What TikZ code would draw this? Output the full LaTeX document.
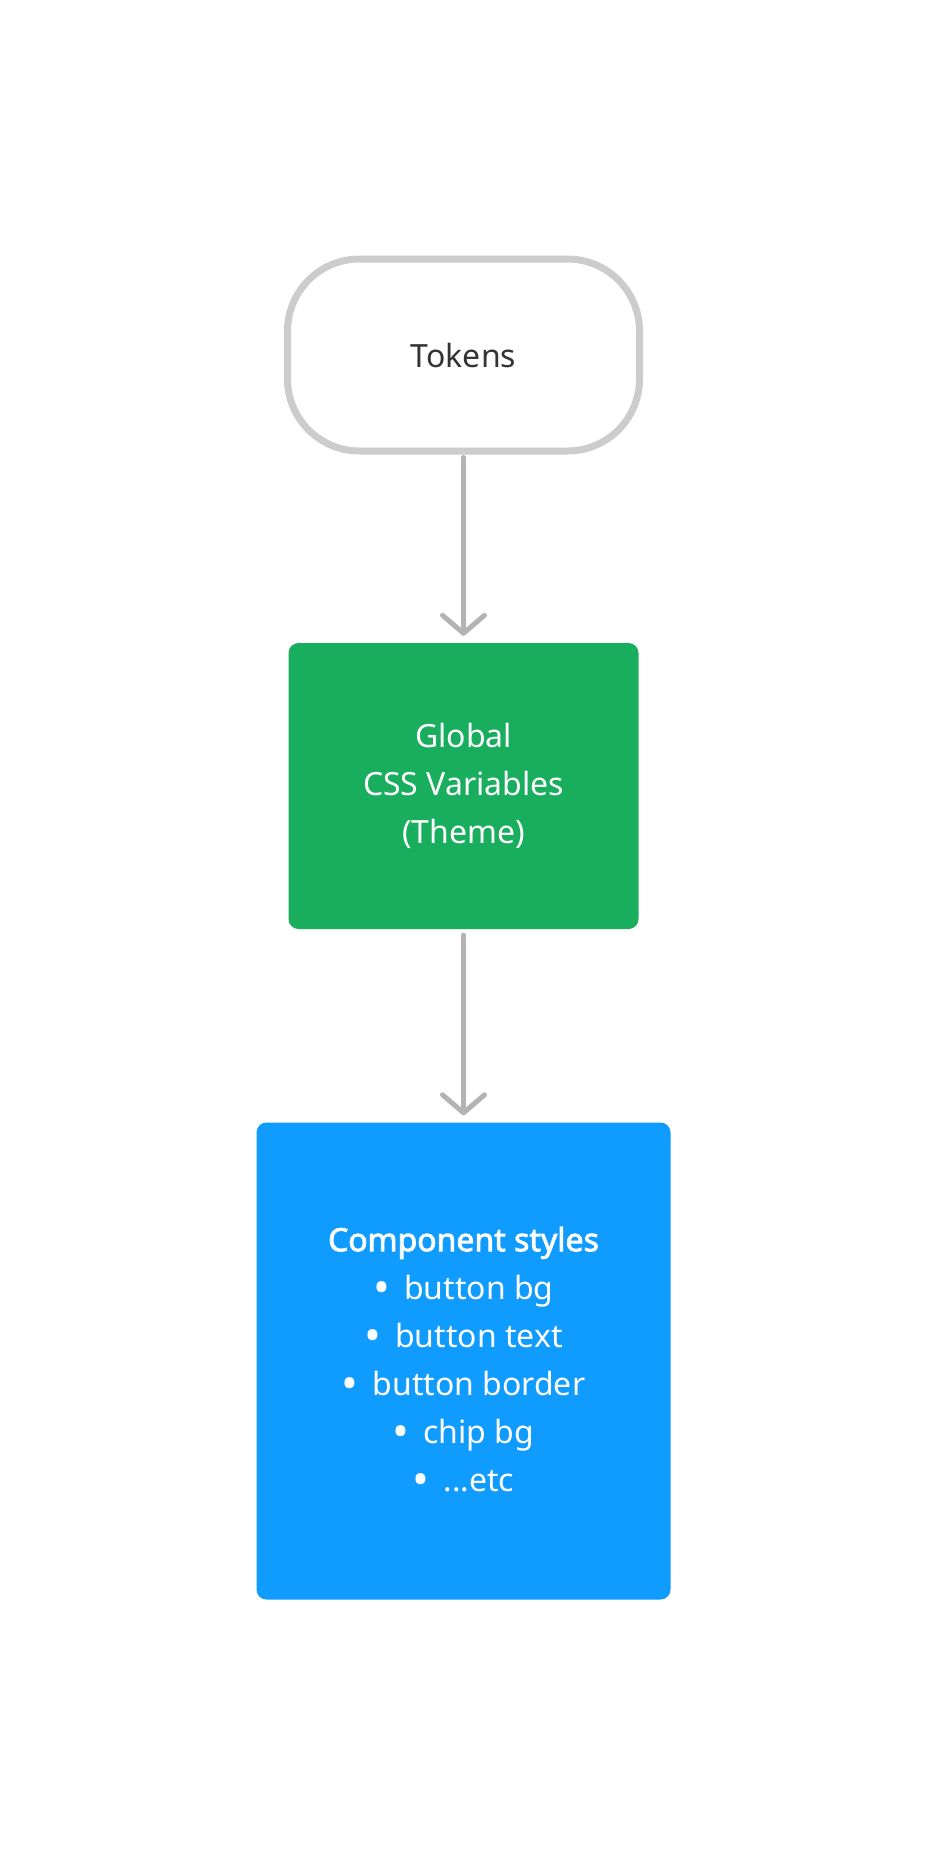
\documentclass[tikz,border=0pt]{standalone}
\usepackage{fontspec}
\usepackage{graphicx}
\setmainfont{Noto Sans}[BoldFont={Noto Sans}, BoldFeatures={FakeBold=2.5}]
\usetikzlibrary{arrows.meta}
\definecolor{tokgray}{HTML}{CCCCCC}
\definecolor{arrgray}{HTML}{B3B3B3}
\definecolor{txtdark}{HTML}{333333}
\definecolor{themegreen}{HTML}{18AE5E}
\definecolor{compblue}{HTML}{109BFF}
\tikzset{
  startbox/.style={draw=tokgray, line width=7pt, fill=white, rounded corners=72pt,
    minimum width=352pt, minimum height=192pt, text=txtdark, inner sep=0pt,
    font=\fontsize{32}{48}\selectfont},
  greenbox/.style={fill=themegreen, rounded corners=10pt, minimum width=350pt,
    minimum height=286pt, text=white, align=center, inner sep=0pt,
    font=\fontsize{32}{48}\selectfont},
  bluebox/.style={fill=compblue, rounded corners=10pt, minimum width=414pt,
    minimum height=477pt, text=white, align=center, inner sep=0pt,
    font=\fontsize{32}{48}\selectfont},
  flowarrow/.style={draw=arrgray, line width=5pt, line cap=round, line join=round,
    -{Straight Barb[length=18pt, width=42pt, line cap=round, line join=round]}}
}
\newcommand{\bul}{\raisebox{-4pt}{\scalebox{1.4}{\textbullet}}\hspace{14pt}}
\begin{document}
\begin{tikzpicture}[x=1pt, y=-1pt]
  \useasboundingbox (0,0) rectangle (928,1860);
  \fill[white] (0,0) rectangle (928,1860);
  \node[startbox] (tokens) at (463.5,355) {Tokens};
  \node[greenbox] (global) at (463.5,786) {Global\\CSS Variables\\(Theme)};
  \node[bluebox] (comp) at (463.5,1361) {\textbf{Component styles}\\\bul button bg\\\bul button text\\\bul button border\\\bul chip bg\\\bul ...etc};
  \draw[flowarrow, shorten <=3pt, shorten >=7pt] (tokens.south) -- (global.north);
  \draw[flowarrow, shorten <=6pt, shorten >=7pt] (global.south) -- (comp.north);
\end{tikzpicture}
\end{document}
